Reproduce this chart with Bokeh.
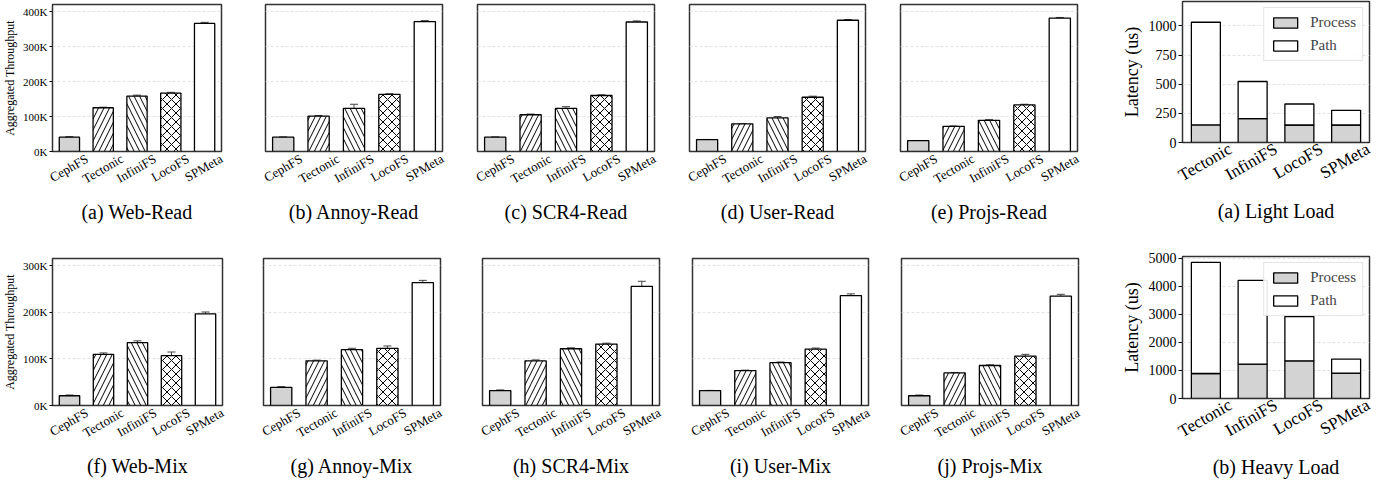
import math
from bokeh.plotting import figure
from bokeh.models import (ColumnDataSource, Range1d, FixedTicker,
                          Whisker, TeeHead, CustomJSTickFormatter)
from bokeh.layouts import row, column
from bokeh.embed import file_html
from bokeh.resources import INLINE

SERIF = "Liberation Serif"

# ---------------- data ----------------
systems = ["CephFS", "Tectonic", "InfiniFS", "LocoFS", "SPMeta"]

# throughput, in thousands of ops/s
web_read = [41, 125, 158, 167, 366]
web_read_err = [1.5, 1.5, 3, 2, 3]
annoy_read = [41, 101, 123, 163, 371]
annoy_read_err = [0.5, 2, 12, 2, 3]
scr4_read = [41, 105, 123, 160, 370]
scr4_read_err = [0.5, 2, 5, 2, 3]
user_read = [34, 79, 96, 155, 375]
user_read_err = [0.5, 1, 4, 3, 2]
projs_read = [31, 72, 89, 133, 381]
projs_read_err = [0.5, 1, 2, 2, 2]

web_mix = [21, 110, 135, 107, 197]
web_mix_err = [1.5, 3, 4, 8, 4]
annoy_mix = [39, 96, 120, 123, 264]
annoy_mix_err = [1.5, 1.5, 3, 5, 5]
scr4_mix = [32, 96, 122, 132, 256]
scr4_mix_err = [1.5, 2, 2, 2, 11]
user_mix = [32, 75, 92, 121, 236]
user_mix_err = [0.5, 1, 1.5, 2.5, 4]
projs_mix = [21, 70, 86, 106, 235]
projs_mix_err = [1.5, 1, 1.5, 4, 4]

read_ticks = [0, 100, 200, 300, 400]
mix_ticks = [0, 100, 200, 300]

lat_systems = ["Tectonic", "InfiniFS", "LocoFS", "SPMeta"]
light_process = [151, 204, 150, 150]
light_path = [880, 319, 180, 126]
heavy_process = [890, 1225, 1343, 905]
heavy_path = [3955, 2979, 1578, 499]
light_ticks = [0, 250, 500, 750, 1000]
heavy_ticks = [0, 1000, 2000, 3000, 4000, 5000]

# ---------------- styles ----------------
bar_fill = ["#d3d3d3", "white", "white", "white", "white"]
bar_hatch = [" ", "/", "\\", "x", " "]
bar_hatch_scale = [10, 11, 11, 9, 10]

# approximate Times glyph advance widths (em) to centre rotated labels
_W = {"C": .667, "e": .444, "p": .5, "h": .5, "F": .556, "S": .556, "T": .611,
      "c": .444, "t": .278, "o": .5, "n": .5, "i": .278, "I": .333, "f": .333,
      "L": .611, "M": .889, "a": .444, "P": .556}


def text_w(s, px):
    return sum(_W.get(ch, .5) for ch in s) * px


def slots(factors):
    # category slot centres on a 0..n axis
    return [i + 0.5 for i in range(len(factors))]


def style_common(p):
    p.outline_line_color = "#333333"
    p.outline_line_width = 1.5
    p.background_fill_color = "white"
    p.border_fill_color = "white"
    p.xgrid.grid_line_color = None
    p.ygrid.grid_line_color = "#e2e2e2"
    p.ygrid.grid_line_dash = "3 2"
    p.yaxis.axis_line_color = None
    p.yaxis.minor_tick_line_color = None
    p.yaxis.major_tick_in = 0
    p.yaxis.major_label_text_font = SERIF
    p.yaxis.major_label_text_color = "black"
    p.yaxis.axis_label_text_font = SERIF
    p.yaxis.axis_label_text_font_style = "normal"
    p.yaxis.axis_label_text_color = "black"


def label_axis(p, factors, frame_w, size_px, standoff, caption, cap_standoff):
    """Rotated category labels centred under each bar, plus the caption."""
    n = len(factors)
    ppu = frame_w / n
    pos = [min(c + text_w(f, size_px) * math.cos(math.pi / 6) / 2 / ppu, n - 0.001)
           for c, f in zip(slots(factors), factors)]
    ax = p.xaxis[0]
    ax.ticker = FixedTicker(ticks=pos)
    ax.formatter = CustomJSTickFormatter(args=dict(names=factors, pos=pos), code="""
        let b = 0;
        for (let k = 0; k < pos.length; k++)
            if (Math.abs(pos[k] - tick) < Math.abs(pos[b] - tick)) b = k;
        return names[b];""")
    ax.axis_line_color = None
    ax.major_tick_line_color = None
    ax.minor_tick_line_color = None
    ax.major_tick_out = 0
    ax.major_tick_in = 0
    ax.major_label_orientation = math.pi / 6
    ax.major_label_standoff = standoff
    ax.major_label_text_font = SERIF
    ax.major_label_text_font_size = f"{size_px}px"
    ax.major_label_text_color = "black"
    ax.axis_label = caption
    ax.axis_label_standoff = cap_standoff
    ax.axis_label_text_font = SERIF
    ax.axis_label_text_font_style = "normal"
    ax.axis_label_text_font_size = "20px"
    ax.axis_label_text_color = "black"


def tp_panel(vals, errs, caption, ymax, ticks, show_y, w, bl, br, h, bt, bb):
    p = figure(x_range=Range1d(0, len(systems)), y_range=Range1d(0, ymax),
               width=w, height=h, min_border_left=bl, min_border_right=br,
               min_border_top=bt, min_border_bottom=bb,
               output_backend="svg", toolbar_location=None)
    src = ColumnDataSource(dict(
        x=slots(systems), name=systems, top=vals,
        lower=[v - e for v, e in zip(vals, errs)],
        upper=[v + e for v, e in zip(vals, errs)],
        fill=bar_fill, hatch=bar_hatch, scale=bar_hatch_scale))
    p.vbar(x="x", top="top", bottom=0, width=0.6, source=src,
           fill_color="fill", line_color="black", line_width=1.3,
           hatch_pattern="hatch", hatch_scale="scale", hatch_weight=1.0,
           hatch_color="black")
    p.add_layout(Whisker(source=src, base="x", upper="upper", lower="lower",
                         line_color="#444444", line_width=1,
                         upper_head=TeeHead(size=8, line_color="#444444", line_width=1),
                         lower_head=TeeHead(size=8, line_color="#444444", line_width=1)))
    style_common(p)
    p.yaxis.ticker = FixedTicker(ticks=ticks)
    p.ygrid.ticker = FixedTicker(ticks=ticks)
    p.yaxis.formatter = CustomJSTickFormatter(code="return tick + 'K';")
    p.yaxis.major_label_text_font_size = "11px"
    p.yaxis.major_tick_out = 3
    p.yaxis.major_label_standoff = 2
    p.yaxis.axis_label = "Aggregated Throughput"
    p.yaxis.axis_label_text_font_size = "12px"
    p.yaxis.axis_label_standoff = 3
    if not show_y:
        p.yaxis.visible = False
    label_axis(p, systems, w - bl - br, 13, 6, caption, 5)
    return p


def lat_panel(proc, path, caption, ymax, ticks, w, bl, br, h, bt, bb):
    p = figure(x_range=Range1d(0, len(lat_systems)), y_range=Range1d(0, ymax),
               width=w, height=h, min_border_left=bl, min_border_right=br,
               min_border_top=bt, min_border_bottom=bb,
               output_backend="svg", toolbar_location=None)
    src = ColumnDataSource(dict(x=slots(lat_systems), name=lat_systems,
                                process=proc, path=path))
    p.vbar_stack(["process", "path"], x="x", width=0.62, source=src,
                 fill_color=["#d3d3d3", "white"], line_color="black",
                 line_width=1.3, legend_label=["Process", "Path"])
    style_common(p)
    p.yaxis.ticker = FixedTicker(ticks=ticks)
    p.ygrid.ticker = FixedTicker(ticks=ticks)
    p.yaxis.major_label_text_font_size = "14px"
    p.yaxis.major_tick_out = 4
    p.yaxis.major_label_standoff = 2
    p.yaxis.axis_label = "Latency (us)"
    p.yaxis.axis_label_text_font_size = "18px"
    p.yaxis.axis_label_standoff = 4
    label_axis(p, lat_systems, w - bl - br, 17, 5, caption, 4)
    lg = p.legend[0]
    lg.location = "top_right"
    lg.label_text_font = SERIF
    lg.label_text_font_size = "15px"
    lg.glyph_width = 30
    lg.glyph_height = 13
    lg.border_line_color = "#cccccc"
    lg.background_fill_alpha = 0.9
    lg.padding = 6
    lg.spacing = 6
    lg.margin = 6
    lg.label_standoff = 10
    return p


# throughput, row 1
H1, T1, B1 = 252, 4, 101
pa = tp_panel(web_read, web_read_err, "(a) Web-Read", 420, read_ticks, True, 243, 46, 22, H1, T1, B1)
pb = tp_panel(annoy_read, annoy_read_err, "(b) Annoy-Read", 420, read_ticks, False, 217, 22, 18, H1, T1, B1)
pc = tp_panel(scr4_read, scr4_read_err, "(c) SCR4-Read", 420, read_ticks, False, 211, 17, 17, H1, T1, B1)
pd = tp_panel(user_read, user_read_err, "(d) User-Read", 420, read_ticks, False, 211, 18, 17, H1, T1, B1)
pe = tp_panel(projs_read, projs_read_err, "(e) Projs-Read", 420, read_ticks, False, 236, 18, 41, H1, T1, B1)

# throughput, row 2
H2, T2, B2 = 229, 6, 76
pf = tp_panel(web_mix, web_mix_err, "(f) Web-Mix", 316, mix_ticks, True, 243, 46, 21, H2, T2, B2)
pg = tp_panel(annoy_mix, annoy_mix_err, "(g) Annoy-Mix", 316, mix_ticks, False, 218, 20, 21, H2, T2, B2)
ph = tp_panel(scr4_mix, scr4_mix_err, "(h) SCR4-Mix", 316, mix_ticks, False, 214, 21, 16, H2, T2, B2)
pi = tp_panel(user_mix, user_mix_err, "(i) User-Mix", 316, mix_ticks, False, 209, 17, 16, H2, T2, B2)
pj = tp_panel(projs_mix, projs_mix_err, "(j) Projs-Mix", 316, mix_ticks, False, 234, 17, 40, H2, T2, B2)

# latency
pL = lat_panel(light_process, light_path, "(a) Light Load", 1209, light_ticks, 267, 54, 16, 252, 1, 110)
pH = lat_panel(heavy_process, heavy_path, "(b) Heavy Load", 5057, heavy_ticks, 267, 54, 16, 229, 4, 83)

layout = row(column(row(pa, pb, pc, pd, pe, spacing=0),
                    row(pf, pg, ph, pi, pj, spacing=0), spacing=0),
             column(pL, pH, spacing=0), spacing=0)

open("out.html", "w").write(file_html(layout, INLINE))
